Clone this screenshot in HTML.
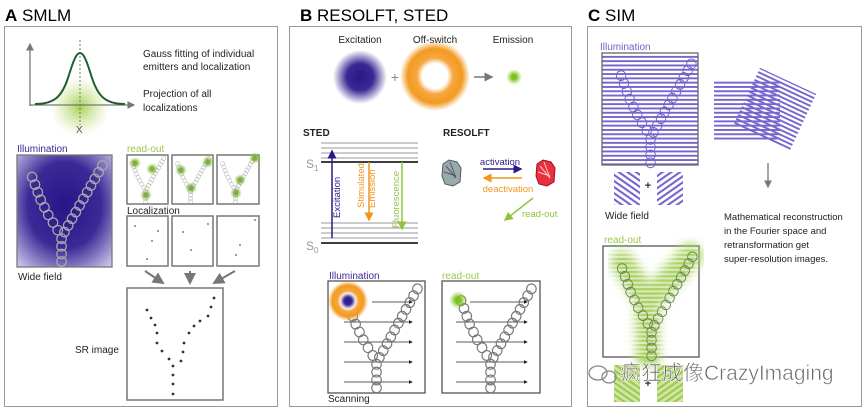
<!DOCTYPE html>
<html><head><meta charset="utf-8"><style>
html,body{margin:0;padding:0;background:#fff;width:864px;height:410px;overflow:hidden}
svg{display:block;font-family:"Liberation Sans","Noto Sans CJK SC",sans-serif}
</style></head><body>
<svg width="864" height="410" viewBox="0 0 864 410" xmlns="http://www.w3.org/2000/svg">
<defs>
<radialGradient id="wf" cx="0.5" cy="0.45" r="0.7"><stop offset="0" stop-color="#2a1488"/><stop offset="0.55" stop-color="#3a2a96"/><stop offset="1" stop-color="#c4bde6"/></radialGradient>
<radialGradient id="gblob"><stop offset="0" stop-color="#9ccc3c" stop-opacity="0.9"/><stop offset="1" stop-color="#c8e48a" stop-opacity="0"/></radialGradient>
<radialGradient id="bblob"><stop offset="0" stop-color="#2a1680"/><stop offset="0.5" stop-color="#3a2a96"/><stop offset="1" stop-color="#3a2a96" stop-opacity="0"/></radialGradient>
<radialGradient id="oring"><stop offset="0.36" stop-color="#fff"/><stop offset="0.52" stop-color="#f7a640"/><stop offset="0.78" stop-color="#f29a20"/><stop offset="1" stop-color="#f29a20" stop-opacity="0"/></radialGradient>
<radialGradient id="gdot"><stop offset="0.3" stop-color="#7cc020"/><stop offset="1" stop-color="#9cd040" stop-opacity="0"/></radialGradient>
<radialGradient id="gsm"><stop offset="0.3" stop-color="#7db43a"/><stop offset="1" stop-color="#9cd040" stop-opacity="0"/></radialGradient>
<pattern id="hs" width="10" height="4.3" patternUnits="userSpaceOnUse"><rect width="10" height="1.9" fill="#7466cc"/></pattern>
<pattern id="ds1" width="5" height="5" patternUnits="userSpaceOnUse" patternTransform="rotate(35)"><rect width="5" height="2.1" fill="#7466cc"/></pattern>
<pattern id="ds2" width="5" height="5" patternUnits="userSpaceOnUse" patternTransform="rotate(-35)"><rect width="5" height="2.1" fill="#7466cc"/></pattern>
<pattern id="gs1" width="5" height="5" patternUnits="userSpaceOnUse" patternTransform="rotate(35)"><rect width="5" height="2.3" fill="#9cc850"/><rect y="2.3" width="5" height="2.7" fill="#cfe6a0"/></pattern>
<pattern id="gs2" width="5" height="5" patternUnits="userSpaceOnUse" patternTransform="rotate(-35)"><rect width="5" height="2.3" fill="#9cc850"/><rect y="2.3" width="5" height="2.7" fill="#cfe6a0"/></pattern>
<pattern id="ws" width="10" height="4.3" patternUnits="userSpaceOnUse"><rect y="2.2" width="10" height="2.1" fill="#fff" fill-opacity="0.55"/></pattern>
<filter id="bl" x="-20%" y="-20%" width="140%" height="140%"><feGaussianBlur stdDeviation="5"/></filter>
<marker id="ar" markerWidth="6" markerHeight="6" refX="5" refY="3" orient="auto"><path d="M0,0 L6,3 L0,6 z" fill="context-stroke"/></marker>
<marker id="ag" markerWidth="6" markerHeight="6" refX="5" refY="3" orient="auto"><path d="M0,0 L6,3 L0,6 z" fill="#777"/></marker>
<marker id="ak" markerWidth="5" markerHeight="5" refX="4" refY="2.5" orient="auto"><path d="M0,0 L5,2.5 L0,5 z" fill="#222"/></marker>
<g id="Y" fill="none">
<circle cx="18" cy="20" r="5"/><circle cx="21" cy="28" r="5"/><circle cx="24" cy="36" r="5"/><circle cx="27" cy="44" r="5"/><circle cx="31" cy="52" r="5"/><circle cx="35" cy="60" r="5"/><circle cx="40" cy="68" r="5"/><circle cx="45" cy="76" r="5"/>
<circle cx="92" cy="8" r="5"/><circle cx="88" cy="15" r="5"/><circle cx="84" cy="22" r="5"/><circle cx="80" cy="29" r="5"/><circle cx="76" cy="36" r="5"/><circle cx="72" cy="43" r="5"/><circle cx="68" cy="50" r="5"/><circle cx="64" cy="57" r="5"/><circle cx="60" cy="64" r="5"/><circle cx="56" cy="71" r="5"/><circle cx="52" cy="78" r="5"/>
<circle cx="49" cy="85" r="5"/><circle cx="49" cy="93" r="5"/><circle cx="49" cy="101" r="5"/><circle cx="49" cy="109" r="5"/>
</g>
</defs>

<!-- Panel A -->
<text x="5" y="21" font-size="17"><tspan font-weight="bold">A</tspan> SMLM</text>
<rect x="4.5" y="26.5" width="273" height="380" fill="none" stroke="#999" stroke-width="1"/>
<circle cx="80" cy="107" r="30" fill="url(#gblob)"/>
<line x1="30" y1="106" x2="30" y2="44" stroke="#777" stroke-width="1.3" marker-end="url(#ag)"/>
<line x1="30" y1="105" x2="134" y2="105" stroke="#777" stroke-width="1.3" marker-end="url(#ag)"/>
<line x1="80" y1="40" x2="80" y2="125" stroke="#777" stroke-dasharray="2,2"/>
<path d="M35,104 C55,104 62,96 68,78 C73,62 76,53 80,53 C84,53 87,62 92,78 C98,96 105,104 125,104" fill="none" stroke="#1e5e32" stroke-width="2"/>
<text x="76" y="133" font-size="10" fill="#555">X</text>
<g font-size="10" fill="#222"><text x="143" y="57">Gauss fitting of individual</text><text x="143" y="70">emitters and localization</text><text x="143" y="97">Projection of all</text><text x="143" y="111">localizations</text></g>
<text x="17" y="152" font-size="10" fill="#3a2a96">Illumination</text>
<rect x="17" y="155" width="95" height="112" fill="url(#wf)" stroke="#777" stroke-width="1.3"/>
<use href="#Y" transform="translate(15,158) scale(0.95,0.95)" stroke="#aaa" stroke-width="1.3"/>
<text x="18" y="280" font-size="10" fill="#222">Wide field</text>
<text x="127" y="152" font-size="10" fill="#9cc84a">read-out</text>
<g stroke="#777" stroke-width="1.5" fill="#fff">
<rect x="127" y="155" width="41" height="49"/><rect x="172" y="155" width="41" height="49"/><rect x="217" y="155" width="42" height="49"/>
<rect x="127" y="216" width="41" height="50"/><rect x="172" y="216" width="41" height="50"/><rect x="217" y="216" width="42" height="50"/>
<rect x="127" y="288" width="96" height="112"/>
</g>
<g fill="url(#gsm)"><circle cx="135" cy="163" r="6"/><circle cx="152" cy="169" r="6"/><circle cx="146" cy="195" r="6"/><circle cx="181" cy="170" r="6"/><circle cx="208" cy="162" r="6"/><circle cx="191" cy="188" r="6"/><circle cx="255" cy="158" r="6"/><circle cx="240" cy="180" r="6"/><circle cx="236" cy="193" r="6"/></g>
<g stroke="#888" stroke-width="0.8">
<use href="#Y" transform="translate(125,155) scale(0.42,0.43)"/>
<use href="#Y" transform="translate(170,155) scale(0.42,0.43)"/>
<use href="#Y" transform="translate(215,155) scale(0.42,0.43)"/>
</g>
<text x="127" y="214" font-size="10" fill="#222">Localization</text>
<g fill="#555"><circle cx="135" cy="226" r="0.9"/><circle cx="158" cy="231" r="0.9"/><circle cx="152" cy="241" r="0.9"/><circle cx="147" cy="259" r="0.9"/><circle cx="183" cy="232" r="0.9"/><circle cx="208" cy="224" r="0.9"/><circle cx="191" cy="250" r="0.9"/><circle cx="255" cy="220" r="0.9"/><circle cx="240" cy="245" r="0.9"/><circle cx="236" cy="255" r="0.9"/></g>
<g stroke="#777" stroke-width="2" marker-end="url(#ag)"><line x1="145" y1="271" x2="163" y2="283"/><line x1="190" y1="271" x2="190" y2="283"/><line x1="235" y1="271" x2="214" y2="283"/></g>
<g fill="#333"><circle cx="147" cy="310" r="1.4"/><circle cx="151" cy="318" r="1.4"/><circle cx="155" cy="325" r="1.4"/><circle cx="157" cy="333" r="1.4"/><circle cx="157" cy="343" r="1.4"/><circle cx="162" cy="351" r="1.4"/><circle cx="169" cy="359" r="1.4"/><circle cx="173" cy="366" r="1.4"/><circle cx="173" cy="375" r="1.4"/><circle cx="173" cy="384" r="1.4"/><circle cx="173" cy="394" r="1.4"/><circle cx="181" cy="361" r="1.4"/><circle cx="183" cy="352" r="1.4"/><circle cx="184" cy="343" r="1.4"/><circle cx="189" cy="333" r="1.4"/><circle cx="194" cy="326" r="1.4"/><circle cx="200" cy="321" r="1.4"/><circle cx="208" cy="316" r="1.4"/><circle cx="211" cy="307" r="1.4"/><circle cx="214" cy="298" r="1.4"/></g>
<text x="75" y="353" font-size="10" fill="#222">SR image</text>

<!-- Panel B -->
<text x="300" y="21" font-size="17"><tspan font-weight="bold">B</tspan> RESOLFT, STED</text>
<rect x="289.5" y="26.5" width="282" height="380" fill="none" stroke="#999"/>
<g font-size="10" fill="#222" text-anchor="middle"><text x="360" y="43">Excitation</text><text x="435" y="43">Off-switch</text><text x="513" y="43">Emission</text></g>
<circle cx="360" cy="77" r="27" fill="url(#bblob)"/>
<text x="395" y="82" font-size="14" fill="#888" text-anchor="middle">+</text>
<circle cx="435" cy="76" r="35" fill="url(#oring)"/>
<line x1="474" y1="77" x2="492" y2="77" stroke="#777" stroke-width="1.5" marker-end="url(#ag)"/>
<circle cx="514" cy="77" r="8" fill="url(#gdot)"/>
<text x="303" y="136" font-size="10" font-weight="bold" fill="#222">STED</text>
<text x="443" y="136" font-size="10" font-weight="bold" fill="#222">RESOLFT</text>
<g stroke="#999" stroke-width="1"><line x1="321" y1="143" x2="418" y2="143"/><line x1="321" y1="148" x2="418" y2="148"/><line x1="321" y1="153" x2="418" y2="153"/><line x1="321" y1="158" x2="418" y2="158"/><line x1="321" y1="223" x2="418" y2="223"/><line x1="321" y1="228" x2="418" y2="228"/><line x1="321" y1="233" x2="418" y2="233"/><line x1="321" y1="238" x2="418" y2="238"/></g>
<line x1="321" y1="162" x2="418" y2="162" stroke="#222" stroke-width="1.8"/>
<line x1="321" y1="243" x2="418" y2="243" stroke="#222" stroke-width="1.8"/>
<text x="306" y="168" font-size="12" fill="#999">S<tspan font-size="8" dy="3">1</tspan></text>
<text x="306" y="250" font-size="12" fill="#999">S<tspan font-size="8" dy="3">0</tspan></text>
<line x1="332" y1="238" x2="332" y2="151" stroke="#2a1a88" stroke-width="1.5" marker-end="url(#ar)"/>
<line x1="369" y1="162" x2="369" y2="220" stroke="#f0961e" stroke-width="1.5" marker-end="url(#ar)"/>
<line x1="402" y1="162" x2="402" y2="229" stroke="#8cc43c" stroke-width="1.5" marker-end="url(#ar)"/>
<text transform="translate(340,218) rotate(-90)" font-size="9.5" fill="#2a1a88">Excitation</text>
<text transform="translate(364,208) rotate(-90)" font-size="9.5" fill="#f0961e">Stimulated</text>
<text transform="translate(375,208) rotate(-90)" font-size="9.5" fill="#f0961e">Emission</text>
<text transform="translate(399,228) rotate(-90)" font-size="9.5" fill="#8cc43c">Fluorescence</text>
<g stroke="#556" stroke-width="1" fill="#9aa"><path d="M443,164 l6,-4 l8,2 l4,6 l-1,14 l-7,4 l-8,-2 l-3,-8 z"/><path d="M446,166 l10,12 M450,162 l6,16 M444,172 l12,4" fill="none"/></g>
<g stroke="#a01020" stroke-width="1" fill="#e83040"><path d="M537,164 l6,-4 l8,2 l4,6 l-1,14 l-7,4 l-8,-2 l-3,-8 z"/><path d="M540,166 l10,12 M544,162 l6,16 M538,172 l12,4" fill="none" stroke="#fcc"/></g>
<text x="500" y="165" font-size="9.5" fill="#2a1a88" text-anchor="middle">activation</text>
<line x1="483" y1="169" x2="521" y2="169" stroke="#2a1a88" stroke-width="1.5" marker-end="url(#ar)"/>
<line x1="522" y1="178" x2="484" y2="178" stroke="#f0961e" stroke-width="1.5" marker-end="url(#ar)"/>
<text x="508" y="192" font-size="9.5" fill="#f0961e" text-anchor="middle">deactivation</text>
<line x1="533" y1="198" x2="505" y2="220" stroke="#8cc43c" stroke-width="1.5" marker-end="url(#ar)"/>
<text x="522" y="217" font-size="9.5" fill="#8cc43c">read-out</text>
<text x="329" y="279" font-size="10" fill="#3a2a96">Illumination</text>
<text x="442" y="279" font-size="10" fill="#9cc84a">read-out</text>
<rect x="328" y="281" width="97" height="112" fill="#fff" stroke="#555" stroke-width="1.3"/>
<rect x="442" y="281" width="98" height="112" fill="#fff" stroke="#555" stroke-width="1.3"/>
<g stroke="#222" stroke-width="0.8" marker-end="url(#ak)"><line x1="372" y1="302" x2="412" y2="302"/><line x1="344" y1="322" x2="412" y2="322"/><line x1="344" y1="342" x2="412" y2="342"/><line x1="344" y1="362" x2="412" y2="362"/><line x1="344" y1="382" x2="412" y2="382"/><line x1="470" y1="302" x2="527" y2="302"/><line x1="456" y1="322" x2="527" y2="322"/><line x1="456" y1="342" x2="527" y2="342"/><line x1="456" y1="362" x2="527" y2="362"/><line x1="456" y1="382" x2="527" y2="382"/></g>
<g stroke="#777" stroke-width="1.2" fill="none">
<use href="#Y" transform="translate(330,281) scale(0.95,0.98)"/>
<use href="#Y" transform="translate(444,281) scale(0.95,0.98)"/>
</g>
<circle cx="348" cy="301" r="20" fill="url(#oring)"/>
<circle cx="348" cy="301" r="8" fill="url(#bblob)"/>
<circle cx="458" cy="300" r="9" fill="url(#gdot)"/>
<text x="328" y="402" font-size="10" fill="#222">Scanning</text>

<!-- Panel C -->
<text x="588" y="21" font-size="17"><tspan font-weight="bold">C</tspan> SIM</text>
<rect x="587.5" y="26.5" width="274" height="380" fill="none" stroke="#999"/>
<text x="600" y="50" font-size="10" fill="#6f60c8">Illumination</text>
<rect x="602" y="53" width="96" height="112" fill="url(#hs)" stroke="#666" stroke-width="1.3"/>
<use href="#Y" transform="translate(604,56) scale(0.95,0.98)" stroke="#6f60c8" stroke-width="1" fill="none"/>
<rect x="714" y="80" width="66" height="60" fill="url(#hs)"/>
<rect x="744" y="78" width="62" height="62" fill="url(#hs)" transform="rotate(25 775 109)"/>
<line x1="768" y1="163" x2="768" y2="187" stroke="#777" stroke-width="1.3" marker-end="url(#ag)"/>
<g font-size="9.5" fill="#222"><text x="724" y="220">Mathematical reconstruction</text><text x="724" y="234">in the Fourier space and</text><text x="724" y="248">retransformation get</text><text x="724" y="262">super-resolution images.</text></g>
<rect x="614" y="172" width="26" height="33" fill="url(#ds1)"/>
<rect x="657" y="172" width="26" height="33" fill="url(#ds2)"/>
<text x="648" y="189" font-size="11" font-weight="bold" fill="#333" text-anchor="middle">+</text>
<text x="605" y="219" font-size="10" fill="#222">Wide field</text>
<text x="604" y="243" font-size="10" fill="#9cc84a">read-out</text>
<rect x="603" y="246" width="96" height="111" fill="#fff" stroke="#555" stroke-width="1.3"/>
<g filter="url(#bl)" stroke="#a8d060" stroke-width="24" fill="none" stroke-linecap="round"><path d="M622,262 L647,300 L648,355"/><path d="M690,256 L650,300"/></g>
<rect x="604" y="247" width="94" height="109" fill="url(#ws)"/>
<use href="#Y" transform="translate(605,249) scale(0.95,0.98)" stroke="#6a8a50" stroke-width="1" fill="none"/>
<rect x="614" y="365" width="26" height="37" fill="url(#gs1)"/>
<rect x="657" y="365" width="26" height="37" fill="url(#gs2)"/>
<text x="648" y="387" font-size="11" font-weight="bold" fill="#333" text-anchor="middle">+</text>
<g fill="none" stroke="#888" stroke-width="1.3"><ellipse cx="598" cy="373" rx="9" ry="7"/><ellipse cx="609" cy="377" rx="7" ry="6"/></g>
<text x="620" y="380" font-size="21" fill="#666" stroke="#fff" stroke-width="0.6">疯狂成像CrazyImaging</text>
</svg>
</body></html>
